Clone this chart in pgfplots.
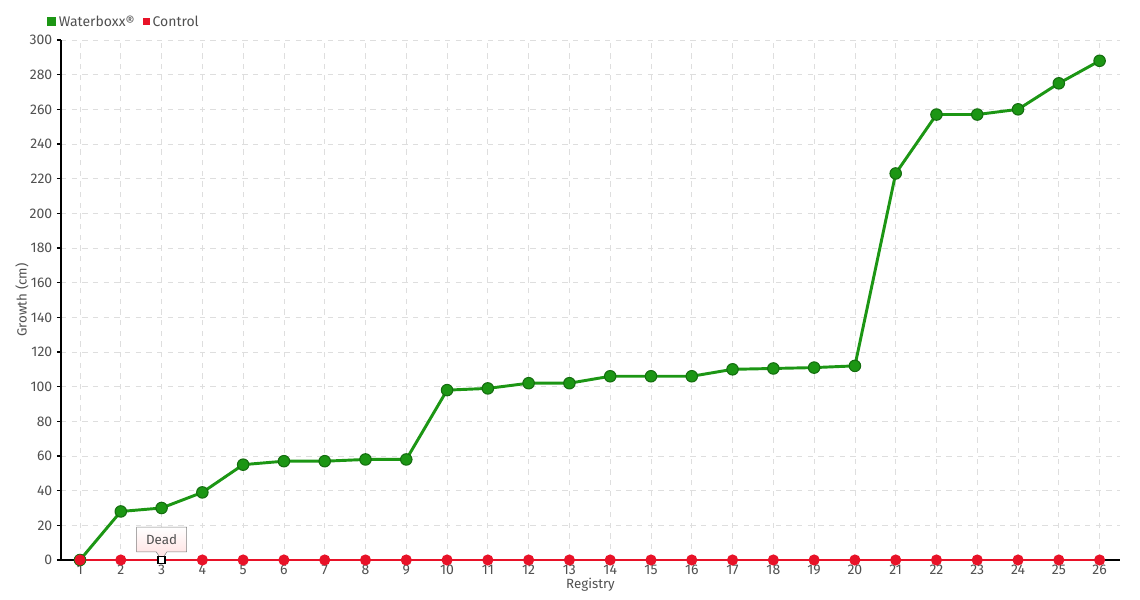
\documentclass[border=0pt]{standalone}
\usepackage{pgfplots}
\pgfplotsset{compat=1.18}
\usepackage{fontspec}
\setmainfont{Fira Sans}
\usetikzlibrary{shapes.callouts}
\definecolor{wgreen}{RGB}{28,150,20}
\definecolor{wgreendk}{RGB}{20,110,15}
\definecolor{cred}{RGB}{232,18,40}
\definecolor{txt}{RGB}{80,80,80}
\definecolor{gridc}{RGB}{222,222,222}
\begin{document}
\begin{tikzpicture}[x=0.75pt,y=0.75pt]
\begin{axis}[
  scale only axis,
  width=794.25pt, height=390pt,
  xmin=0.534, xmax=26.5,
  ymin=0, ymax=300,
  xtick={1,...,26},
  ytick={0,20,...,300},
  axis x line*=bottom, axis y line*=left,
  axis line style={black, line width=0.8pt, -},
  tick align=outside,
  major tick length=3pt,
  xtick style={draw=none},
  ytick style={black, line width=0.8pt},
  grid=major,
  major grid style={gridc, dash pattern=on 4pt off 4pt, line width=0.6pt},
  tick label style={font=\fontsize{10.5}{12}\selectfont, text=txt},
  xticklabel style={yshift=2.5pt},
  /pgf/number format/assume math mode=true,
  xlabel={Registry}, ylabel={Growth (cm)},
  label style={font=\fontsize{10}{12}\selectfont, text=txt},
  xlabel style={yshift=4.5pt},
  ylabel style={yshift=-6pt},
  legend style={at={(axis description cs:-0.013,1.035)}, anchor=west,
    draw=none, fill=none, legend columns=2, font=\fontsize{10.5}{12}\selectfont,
    text=txt, inner sep=0pt,
    /tikz/every even column/.append style={column sep=4pt}},
  legend image code/.code={\fill[#1] (0pt,-2.2pt) rectangle (4.4pt,2.2pt);},
  clip=false,
]
\addplot[wgreen, line width=2.2pt, mark=*, mark size=4.3pt,
  mark options={fill=wgreen, draw=wgreendk, line width=0.8pt}] coordinates {
(1,0) (2,28) (3,30) (4,39) (5,55) (6,57) (7,57) (8,58) (9,58) (10,98)
(11,99) (12,102) (13,102) (14,106) (15,106) (16,106) (17,110) (18,110.5)
(19,111) (20,112) (21,223) (22,257) (23,257) (24,260) (25,275) (26,288)};
\addlegendentry{Waterboxx®}
\addplot[cred, line width=1.1pt, mark=*, mark size=3.6pt,
  mark options={fill=cred, draw=cred}] coordinates {
(1,0) (2,0) (4,0) (5,0) (6,0) (7,0) (8,0) (9,0) (10,0)
(11,0) (12,0) (13,0) (14,0) (15,0) (16,0) (17,0) (18,0)
(19,0) (20,0) (21,0) (22,0) (23,0) (24,0) (25,0) (26,0)};
\addlegendentry{Control}
\addplot[forget plot, draw=none, mark=square*, mark size=2.6pt,
  mark options={fill=white, draw=black, line width=1pt}] coordinates {(3,0)};
\node[rectangle callout, draw=gray, top color=white, bottom color=red!13,
  callout absolute pointer={(axis cs:3,0)}, callout pointer width=8pt,
  minimum width=37.5pt, minimum height=18.5pt, inner sep=0pt,
  font=\fontsize{10}{12}\selectfont, text=txt] at (axis cs:3,11.8) {Dead};
\end{axis}
\useasboundingbox (-61,-40) rectangle (1079,560);
\end{tikzpicture}
\end{document}
